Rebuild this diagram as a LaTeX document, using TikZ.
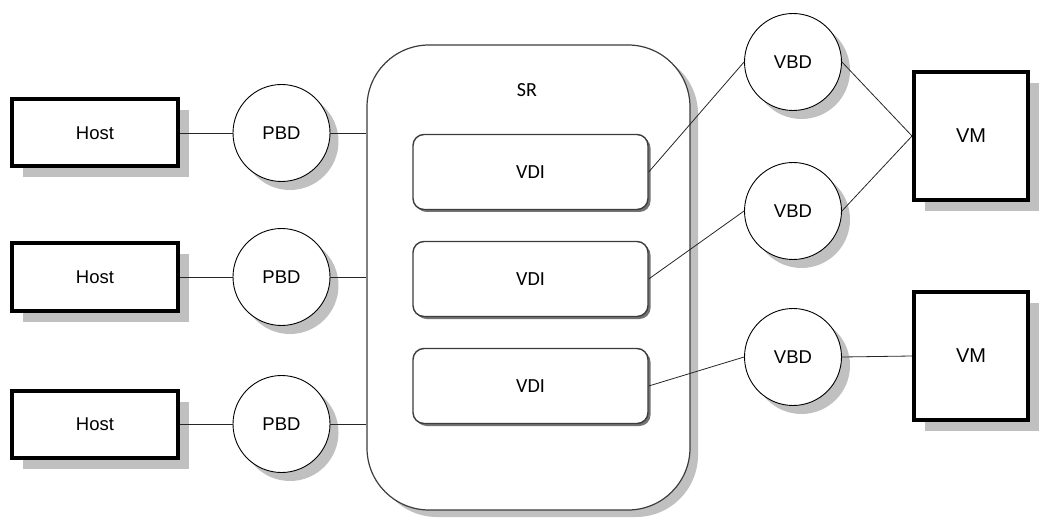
\documentclass[tikz,border=0pt]{standalone}
\usepackage{fontspec}
\setmainfont{Liberation Sans}
\newfontfamily\calibri{Carlito}
\usetikzlibrary{shadows, positioning}
\definecolor{shadowgray}{RGB}{192, 192, 192}
\definecolor{edgegray}{RGB}{60, 60, 60}
\tikzset{
    hostbox/.style={
        rectangle, draw=black, line width=4pt, fill=white,
        minimum width=166pt, minimum height=67pt,
        font=\fontsize{18.5}{22}\selectfont,
        drop shadow={shadow xshift=11pt, shadow yshift=-11pt, fill=shadowgray, opacity=1}
    },
    vmbox/.style={
        hostbox, minimum width=114pt, minimum height=128pt,
        font=\fontsize{20}{23}\selectfont
    },
    pbdcircle/.style={
        circle, draw=black, line width=0.9pt, fill=white,
        minimum size=97pt, inner sep=0pt,
        font=\fontsize{18.5}{22}\selectfont,
        drop shadow={shadow xshift=8.5pt, shadow yshift=-8.5pt, fill=shadowgray, opacity=1}
    },
    srbox/.style={
        rectangle, rounded corners=62pt, draw=edgegray, line width=1.2pt, fill=white,
        minimum width=323pt, minimum height=465pt,
        drop shadow={shadow xshift=8pt, shadow yshift=-7pt, fill=shadowgray, opacity=1}
    },
    vdibox/.style={
        rectangle, rounded corners=11pt, draw=edgegray, line width=1.4pt, fill=white,
        minimum width=235pt, minimum height=75pt,
        font=\calibri\fontsize{20}{23}\selectfont,
        drop shadow={shadow xshift=2.5pt, shadow yshift=-2.5pt, fill=black!55, opacity=1}
    },
    link/.style={draw=black!85, line width=0.8pt}
}
\begin{document}
\begin{tikzpicture}[x=1pt, y=-1pt]
    \useasboundingbox (0,0) rectangle (1041,521);

    % Storage repository
    \node[srbox] (sr) at (528.5,277.5) {};
    \node[font=\calibri\fontsize{20}{23}\selectfont] (srlabel) at (527,90) {SR};
    \node[vdibox] (vdi1) at (530.5,172) {VDI};
    \node[vdibox] (vdi2) at (530.5,279) {VDI};
    \node[vdibox] (vdi3) at (530.5,386) {VDI};

    % Hosts
    \node[hostbox] (host1) at (95,133) {Host};
    \node[hostbox] (host2) at (95,277) {Host};
    \node[hostbox] (host3) at (95,424) {Host};

    \node[pbdcircle] (pbd1) at (281.5,133) {PBD};
    \node[pbdcircle] (pbd2) at (281.5,277) {PBD};
    \node[pbdcircle] (pbd3) at (281.5,424) {PBD};

    % Virtual machines
    \node[pbdcircle] (vbd1) at (793,62) {VBD};
    \node[pbdcircle] (vbd2) at (793,211) {VBD};
    \node[pbdcircle] (vbd3) at (793,357) {VBD};

    \node[vmbox] (vm1) at (971,136) {VM};
    \node[vmbox] (vm2) at (971,356) {VM};

    % Host side
    \draw[link] (host1.east) -- (pbd1.west);
    \draw[link] (host2.east) -- (pbd2.west);
    \draw[link] (host3.east) -- (pbd3.west);
    \draw[link] (pbd1.east) -- (pbd1.east -| sr.west);
    \draw[link] (pbd2.east) -- (pbd2.east -| sr.west);
    \draw[link] (pbd3.east) -- (pbd3.east -| sr.west);

    % VM side
    \draw[link] (vdi1.east) -- (vbd1.west);
    \draw[link] (vdi2.east) -- (vbd2.west);
    \draw[link] (vdi3.east) -- (vbd3.west);
    \draw[link] (vbd1.east) -- (vm1.west);
    \draw[link] (vbd2.east) -- (vm1.west);
    \draw[link] (vbd3.east) -- (vm2.west);
\end{tikzpicture}
\end{document}
